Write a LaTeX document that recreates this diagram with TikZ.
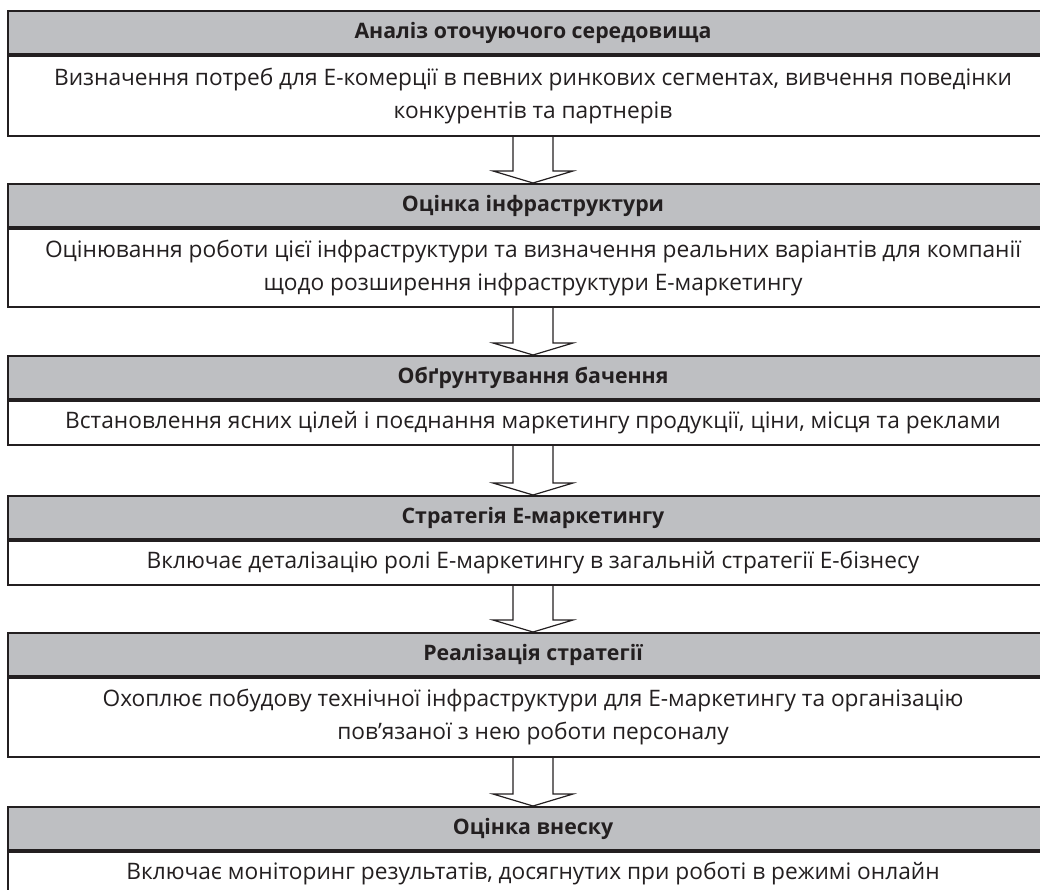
\documentclass[tikz,border=0pt]{standalone}
\usepackage{fontspec}
\setmainfont{Open Sans}
\usetikzlibrary{positioning,calc}
\definecolor{headgrey}{RGB}{190,191,194}
\definecolor{linedark}{RGB}{35,31,32}

% hollow block arrow from one stage to the next
\newcommand{\stagearrow}[2]{%
  \draw[arrowline]
  ($(#1.south)+(-20,0)$) -- ($(#2.north)+(-20,-12)$) -- ($(#2.north)+(-40,-12)$)
  -- (#2.north) -- ($(#2.north)+(40,-12)$) -- ($(#2.north)+(20,-12)$)
  -- ($(#1.south)+(20,0)$);}

\begin{document}
\begin{tikzpicture}[x=1pt,y=-1pt,
    headbox/.style={draw=linedark, line width=2pt, fill=headgrey, anchor=north,
      minimum width=1050pt, minimum height=43pt, inner sep=0pt,
      font=\fontsize{21.3}{25}\selectfont\bfseries, text=linedark},
    bodybox/.style={draw=linedark, line width=2pt, fill=white, below=0pt of #1,
      minimum width=1050pt, minimum height=44pt, inner sep=0pt, align=center,
      font=\fontsize{22.7}{33}\selectfont, text=linedark},
    twoline/.style={minimum height=80pt},
    arrowline/.style={draw=linedark, line width=1.2pt, line join=miter}]
    \useasboundingbox (0,0) rectangle (1040,890);
    \clip (0,0) rectangle (1040,890);

    \node[headbox] (h1) at (533,10) {Аналіз оточуючого середовища};
    \node[bodybox=h1, twoline] (b1) {Визначення потреб для Е-комерції в певних ринкових сегментах, вивчення поведінки\\конкурентів та партнерів};

    \node[headbox] (h2) at (533,183) {Оцінка інфраструктури};
    \node[bodybox=h2, twoline, minimum height=78pt] (b2) {Оцінювання роботи цієї інфраструктури та визначення реальних варіантів для компанії\\щодо розширення інфраструктури Е-маркетингу};

    \node[headbox] (h3) at (533,355) {Обґрунтування бачення};
    \node[bodybox=h3] (b3) {Встановлення ясних цілей і поєднання маркетингу продукції, ціни, місця та реклами};

    \node[headbox] (h4) at (533,495) {Стратегія Е-маркетингу};
    \node[bodybox=h4] (b4) {Включає деталізацію ролі Е-маркетингу в загальній стратегії Е-бізнесу};

    \node[headbox] (h5) at (533,632) {Реалізація стратегії};
    \node[bodybox=h5, twoline, minimum height=79pt] (b5) {Охоплює побудову технічної інфраструктури для Е-маркетингу та організацію\\пов’язаної з нею роботи персоналу};

    \node[headbox] (h6) at (533,806) {Оцінка внеску};
    \node[bodybox=h6] (b6) {Включає моніторинг результатів, досягнутих при роботі в режимі онлайн};

    \stagearrow{b1}{h2}
    \stagearrow{b2}{h3}
    \stagearrow{b3}{h4}
    \stagearrow{b4}{h5}
    \stagearrow{b5}{h6}
  \end{tikzpicture}
\end{document}
